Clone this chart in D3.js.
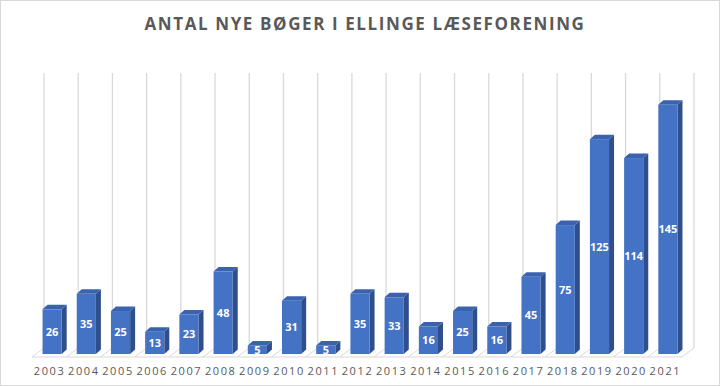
<!DOCTYPE html>
<html>
<head>
<meta charset="utf-8">
<script src="https://cdn.jsdelivr.net/npm/d3@7"></script>
<style>
  body { margin: 0; background: #fff; }
  svg { display: block; font-family: "Open Sans", "Noto Sans", sans-serif; }
</style>
</head>
<body>
<div id="chart"></div>
<script>
// données du graphique
const years = ["2003","2004","2005","2006","2007","2008","2009","2010","2011","2012",
               "2013","2014","2015","2016","2017","2018","2019","2020","2021"];
const books = [26, 35, 25, 13, 23, 48, 5, 31, 5, 35, 33, 16, 25, 16, 45, 75, 125, 114, 145];
const title = "ANTAL NYE BØGER I ELLINGE LÆSEFORENING";

const W = 720, H = 386;
// profondeur 3D du plancher (décalage arrière)
const depthX = 12, depthY = -9;
// la barre est posée à mi-profondeur
const barOffX = 3, barOffY = -3;
const barDX = 5, barDY = -4.5;

const svg = d3.select("#chart").append("svg")
    .attr("width", W)
    .attr("height", H);

svg.append("rect")
    .attr("x", 0.5).attr("y", 0.5)
    .attr("width", W - 1).attr("height", H - 1)
    .attr("fill", "#fff")
    .attr("stroke", "#d9d9d9");

// échelles
const x = d3.scaleBand()
    .domain(years)
    .range([32, 682])
    .paddingInner(0.44)
    .paddingOuter(0.22);

const y = d3.scaleLinear()
    .domain([0, 160])
    .range([357, 82]);

const step = x.step();
const left = x.range()[0], right = x.range()[1];

// lignes verticales du mur du fond
const bounds = d3.range(years.length + 1).map(i => left + i * step);
svg.append("g")
    .selectAll("line")
    .data(bounds)
    .enter().append("line")
    .attr("x1", d => d + depthX)
    .attr("x2", d => d + depthX)
    .attr("y1", y(160) + depthY)
    .attr("y2", y(0) + depthY)
    .attr("stroke", "#d9d9d9")
    .attr("stroke-width", 1.3);

// plancher
const floor = svg.append("g");
floor.selectAll("line.diag")
    .data(bounds)
    .enter().append("line")
    .attr("class", "diag")
    .attr("x1", d => d)
    .attr("y1", y(0))
    .attr("x2", d => d + depthX)
    .attr("y2", y(0) + depthY)
    .attr("stroke", "#d9d9d9")
    .attr("stroke-width", 1);
floor.append("line")
    .attr("x1", left).attr("x2", right)
    .attr("y1", y(0)).attr("y2", y(0))
    .attr("stroke", "#d9d9d9")
    .attr("stroke-width", 1.2);

const data = years.map((yr, i) => ({ year: yr, value: books[i] }));

// barres 3D
const bars = svg.append("g")
    .selectAll("g")
    .data(data)
    .enter().append("g");

bars.each(function (d) {
    const g = d3.select(this);
    const x0 = x(d.year) + barOffX;
    const x1 = x0 + x.bandwidth();
    const yb = y(0) + barOffY;
    const yt = y(d.value) + barOffY;

    // face latérale
    g.append("path")
        .attr("d", `M${x1},${yb} L${x1 + barDX},${yb + barDY} L${x1 + barDX},${yt + barDY} L${x1},${yt} Z`)
        .attr("fill", "#2F4F8C");
    // dessus
    g.append("path")
        .attr("d", `M${x0},${yt} L${x0 + barDX},${yt + barDY} L${x1 + barDX},${yt + barDY} L${x1},${yt} Z`)
        .attr("fill", "#3A62AE");
    // face avant
    g.append("rect")
        .attr("x", x0)
        .attr("y", yt)
        .attr("width", x.bandwidth())
        .attr("height", yb - yt)
        .attr("fill", "#4472C4");
    // étiquette de valeur
    g.append("text")
        .attr("x", x0 + x.bandwidth() / 2)
        .attr("y", (yb + yt) / 2)
        .attr("dy", "0.36em")
        .attr("text-anchor", "middle")
        .attr("fill", "#fff")
        .attr("font-size", 11)
        .attr("font-weight", "bold")
        .text(d.value);
});

// étiquettes des années
svg.append("g")
    .selectAll("text")
    .data(years)
    .enter().append("text")
    .attr("x", d => x(d) + x.bandwidth() / 2 + 0.5)
    .attr("y", 375)
    .attr("text-anchor", "middle")
    .attr("fill", "#595959")
    .attr("font-size", 11)
    .attr("letter-spacing", "1.6px")
    .text(d => d);

// titre
svg.append("text")
    .attr("x", W / 2 + 5)
    .attr("y", 30)
    .attr("text-anchor", "middle")
    .attr("fill", "#595959")
    .attr("font-size", 17)
    .attr("font-weight", "bold")
    .attr("letter-spacing", "1.6px")
    .text(title);
</script>
</body>
</html>
